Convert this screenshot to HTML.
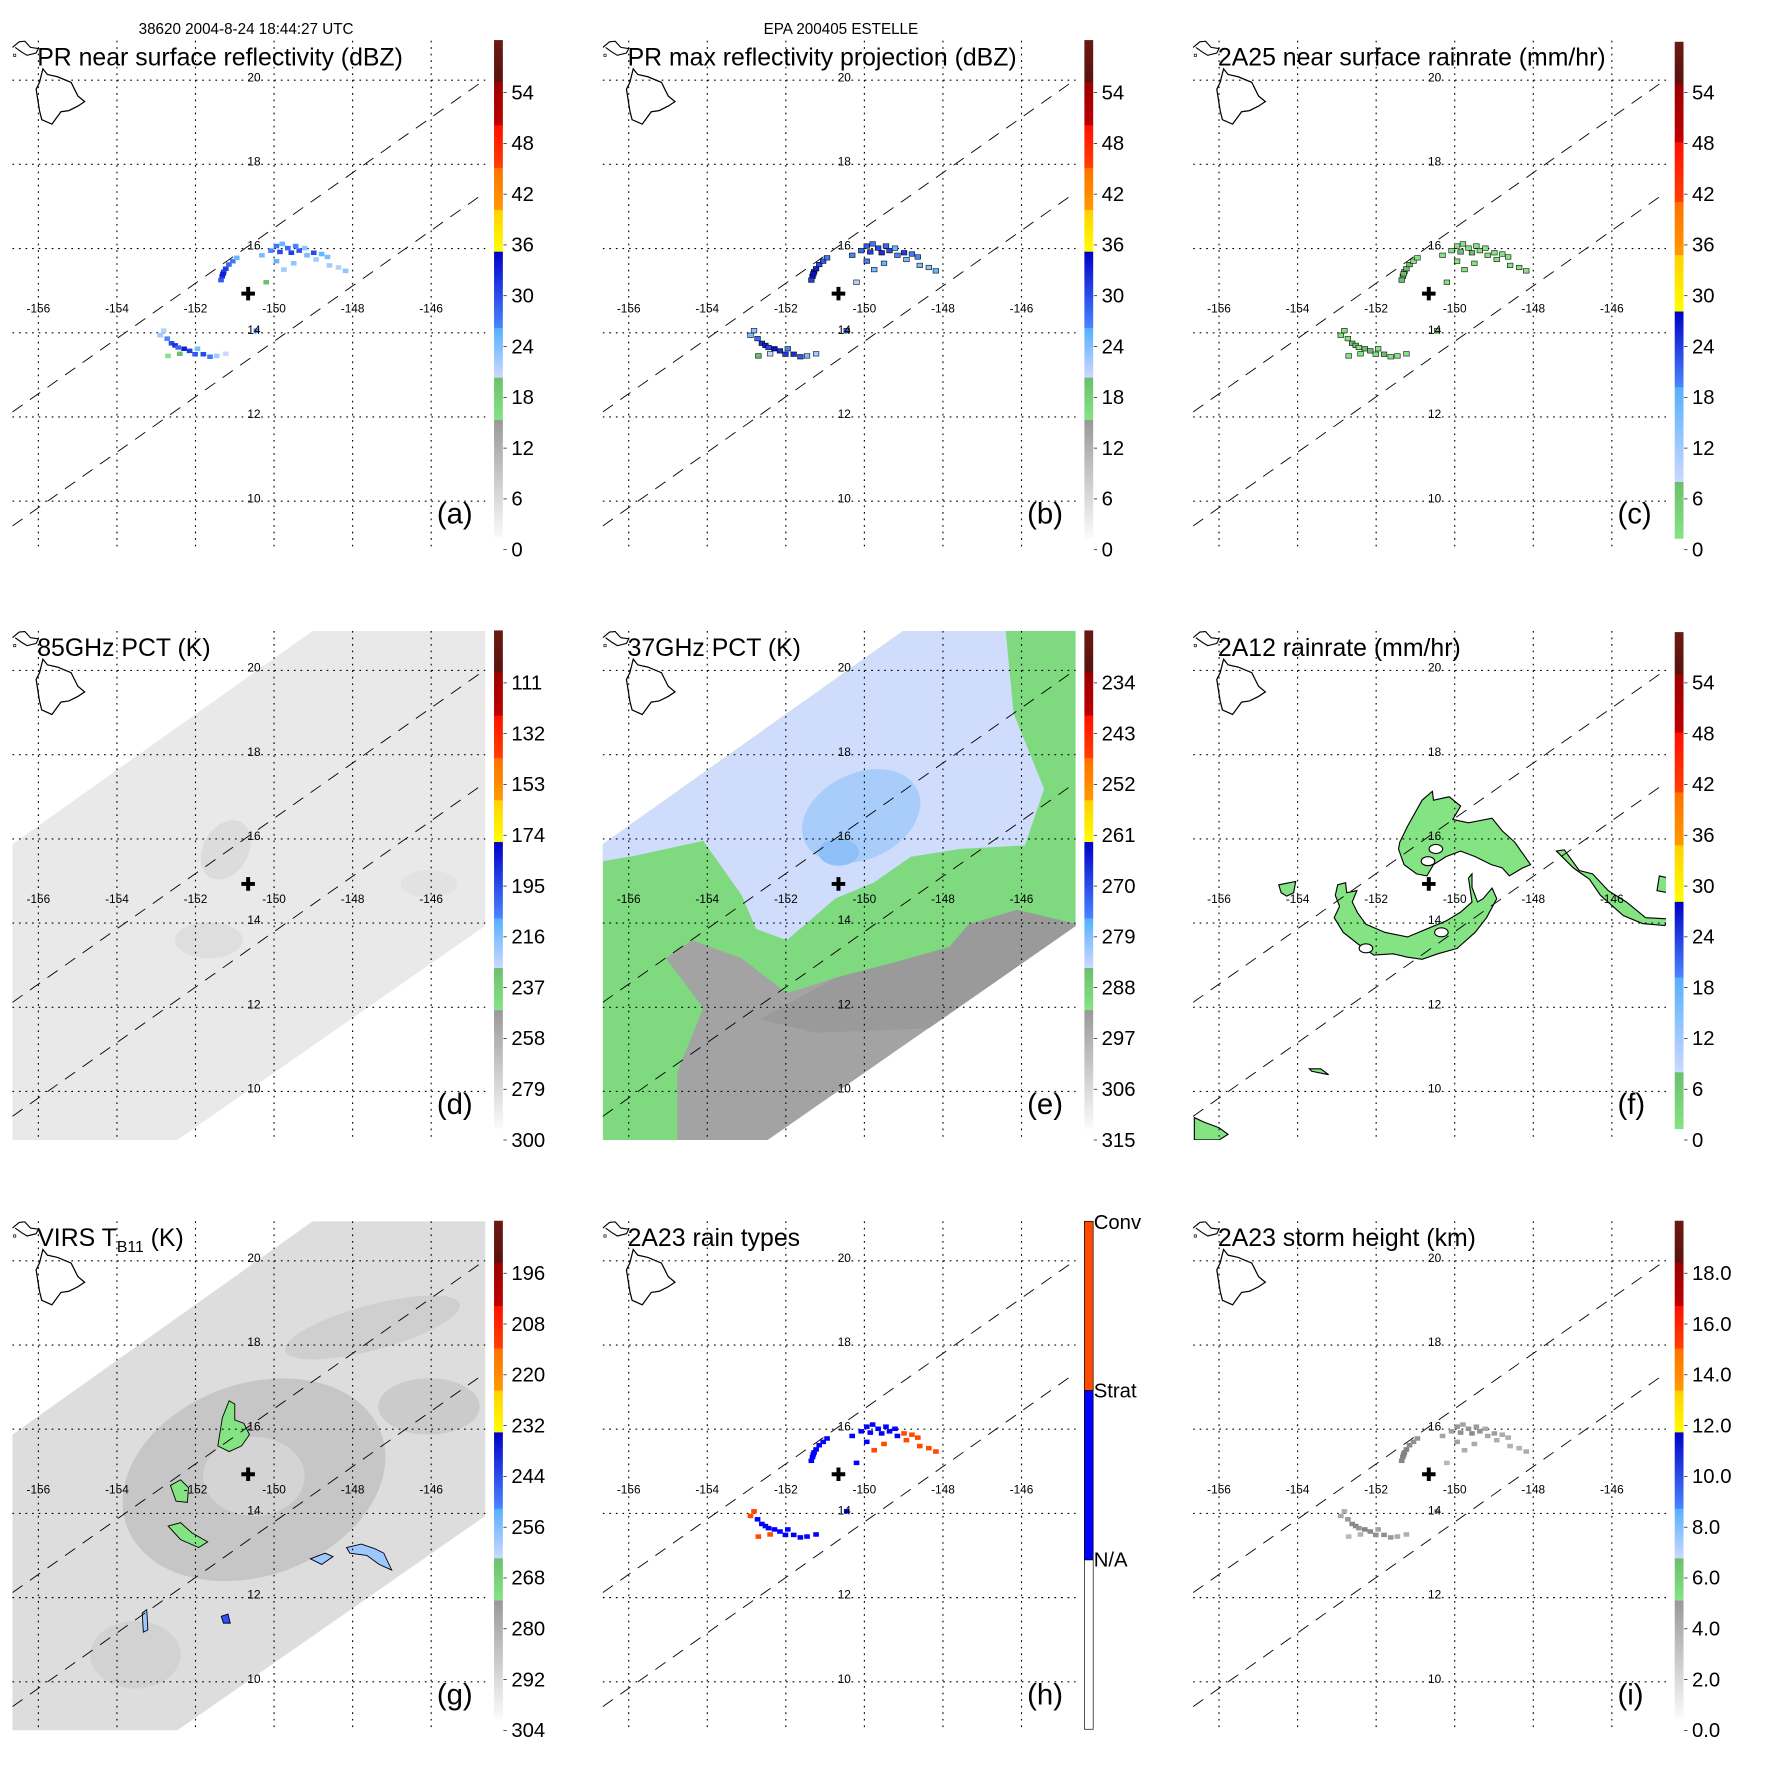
<!DOCTYPE html>
<html><head><meta charset="utf-8"><title>EPA 200405 ESTELLE</title>
<style>
html,body{margin:0;padding:0;background:#fff;}
svg{display:block;font-family:"Liberation Sans",Arial,sans-serif;}
</style></head>
<body>
<svg id="fig" xmlns="http://www.w3.org/2000/svg" width="1771" height="1771" viewBox="0 0 1569 1569">
<rect x="0" y="0" width="1569" height="1569" fill="#fff"/>
<text x="218" y="30" font-size="13.5" text-anchor="middle">38620 2004-8-24 18:44:27 UTC</text>
<text x="745" y="30" font-size="13.5" text-anchor="middle">EPA 200405 ESTELLE</text>
</svg>
<script>
// ---- data ----
const lonTicks = [-156,-154,-152,-150,-148,-146];
const latTicks = [20,18,16,14,12,10];
const centerLon = -150.66, centerLat = 14.93;

const prLon = [-151.32,-151.28,-151.23,-151.15,-151.05,-150.95,-151.35,-151.30,
 -150.31,-150.08,-149.94,-149.85,-149.79,-149.65,-149.56,-149.45,-149.36,-149.22,-149.16,-148.99,-148.93,-148.79,-148.64,-148.59,-148.36,-148.18,-149.50,-149.94,-149.75,-150.20,
 -152.90,-152.81,-152.72,-152.61,-152.52,-152.44,-152.29,-152.15,-152.01,-151.95,-151.80,-151.63,-151.46,-151.23,-152.40,-150.45,-152.70];
const prLat = [15.34,15.45,15.52,15.62,15.70,15.78,15.25,15.40,
 15.84,15.95,16.06,15.92,16.11,16.01,15.90,16.06,15.95,16.01,15.84,15.90,15.74,15.87,15.80,15.60,15.55,15.47,15.65,15.70,15.50,15.20,
 13.94,14.05,13.86,13.75,13.70,13.65,13.62,13.57,13.49,13.62,13.49,13.43,13.45,13.50,13.50,14.05,13.45];
const prDbz = [32,30,31,28,27,25,29,33, 24,26,27,30,25,28,31,26,29,23,24,30,22,25,24,22,21,23,23,25,22,19, 22,21,26,30,32,28,33,31,29,24,30,27,22,20,18,26,17];
const prMax = [33,32,33,30,29,27,31,34, 26,28,29,31,27,30,32,28,30,25,26,31,24,27,26,24,23,25,25,27,24,21, 24,23,28,32,33,30,34,32,31,26,32,29,24,22,20,28,19];
const prRain = [4,3,4,3,2,2,3,5, 1,2,2,3,1,2,3,2,2,1,1,2,1,1,1,1,1,1,1,2,1,0.5, 1,1,2,3,4,2,5,3,2,1,3,2,1,1,0.5,2,0.5];
const prType = [1,1,1,1,1,1,1,1, 1,1,1,1,1,1,1,1,1,1,1,2,2,2,2,2,2,2,2,1,2,1, 2,2,1,1,1,1,1,1,1,1,1,1,1,1,2,1,2];
const prHeight = [4.5,4.3,4.6,4.2,4.0,3.8,4.4,4.7, 3.2,3.5,3.8,4.1,3.3,3.9,4.2,3.6,3.9,3.0,3.1,3.5,2.8,3.0,2.9,2.7,2.6,2.8,3.0,3.4,2.9,2.5, 3.0,2.8,3.6,4.2,4.4,3.9,4.5,4.3,4.0,3.4,4.1,3.7,3.0,2.8,2.6,3.5,2.4];

// 2A12 rain polygons (lon/lat vertex lists)
const f12NorthLon=[-151.40,-151.20,-150.83,-150.57,-150.54,-150.14,-149.85,-150.05,-149.65,-149.05,-148.79,-148.47,-148.07,-148.27,-148.61,-148.79,-149.07,-149.48,-149.85,-150.22,-150.54,-150.71,-150.97,-151.29,-151.43];
const f12NorthLat=[15.92,16.30,16.92,17.13,16.92,17.00,16.78,16.46,16.38,16.49,16.19,15.92,15.39,15.31,15.12,15.31,15.39,15.58,15.71,15.58,15.39,15.12,15.17,15.39,15.76];
const f12SouthLon=[-152.98,-152.78,-152.75,-152.49,-152.61,-152.47,-152.26,-151.78,-151.20,-150.71,-150.22,-149.85,-149.56,-149.65,-149.56,-149.56,-149.42,-149.28,-149.05,-148.93,-149.19,-149.48,-149.94,-150.43,-150.83,-151.20,-151.57,-152.06,-152.47,-152.84,-153.07,-152.93,-153.04];
const f12SouthLat=[14.91,14.96,14.72,14.77,14.50,14.24,13.97,13.78,13.67,13.86,14.05,14.26,14.50,15.07,15.17,14.85,14.50,14.58,14.83,14.58,14.13,13.78,13.40,13.27,13.14,13.19,13.27,13.24,13.51,13.78,14.13,14.40,14.66];
const f12EastLon=[-147.41,-147.21,-146.83,-146.49,-146.09,-145.63,-145.14,-144.56,-144.65,-145.22,-145.71,-146.29,-146.57,-146.98];
const f12EastLat=[15.71,15.74,15.25,15.17,14.77,14.50,14.13,14.10,13.94,13.99,14.18,14.66,15.04,15.31];
const f12EdgeLon=[-144.79,-144.56,-144.56,-144.85]; const f12EdgeLat=[15.12,15.07,14.72,14.77];
const f12WestLon=[-154.48,-154.05,-154.10,-154.28,-154.42]; const f12WestLat=[14.91,14.99,14.72,14.64,14.72];
const f12SWLon=[-156.63,-156.40,-156.00,-155.77,-156.00,-156.63]; const f12SWLat=[9.38,9.28,9.14,8.98,8.85,8.85];
const f12SmLon=[-153.70,-153.41,-153.21,-153.64]; const f12SmLat=[10.54,10.54,10.40,10.48];
const f12HoleLon=[-150.48,-150.68,-150.34,-152.26]; const f12HoleLat=[15.76,15.47,13.78,13.40];

const labelsDbz=['0','6','12','18','24','30','36','42','48','54'];
const labelsRain=['0','6','12','18','24','30','36','42','48','54'];
const labels85=['300','279','258','237','216','195','174','153','132','111'];
const labels37=['315','306','297','288','279','270','261','252','243','234'];
const labelsVirs=['304','292','280','268','256','244','232','220','208','196'];
const labelsHt=['0.0','2.0','4.0','6.0','8.0','10.0','12.0','14.0','16.0','18.0'];

// ---- helpers ----
const NS='http://www.w3.org/2000/svg';
const svg=document.getElementById('fig');
function mk(tag,attrs,parent){const e=document.createElementNS(NS,tag);for(const k in attrs)e.setAttribute(k,attrs[k]);(parent||svg).appendChild(e);return e;}
const xOf=lon=>34+(lon+156)*34.8;
const yOf=lat=>71+(20-lat)*37.3;

function dbzColor(v){
  if(v<15){const g=Math.round(250-v*6.5);return `rgb(${g},${g},${g})`;}
  if(v<20)return v<17.5?'#84e484':'#6cbf6c';
  if(v<26){const t=(v-20)/6;return `rgb(${Math.round(204-t*124)},${Math.round(216-t*40)},255)`;}
  if(v<35){const t=(v-26)/9;return `rgb(${Math.round(74-t*74)},${Math.round(134-t*134)},${Math.round(255-t*55)})`;}
  if(v<40)return '#ffe000'; if(v<45)return '#ff8000'; if(v<51)return '#ff2000'; if(v<57)return '#b00000'; return '#5a120c';
}
function rainColor(v){
  if(v<8)return v<3?'#84e484':'#6cbf6c';
  if(v<20)return '#9cc8ff'; if(v<28)return '#2040ff'; return '#ffe000';
}
function htColor(v){const g=Math.round(245-v*25);return `rgb(${g},${g},${g})`;}

const segA=[[35.5,72.7,'#6b1a12','#5a120c'],[72.7,111,'#9a0000','#c00000'],[111,148.7,'#ff1000','#ff4000'],[148.7,186,'#ff7000','#ff9a00'],[186,223,'#ffd000','#ffff00'],[223,290.7,'#0000c8','#4a86ff'],[290.7,334.6,'#55b0ff','#ccd8ff'],[334.6,372,'#6cbf6c','#84e484'],[372,476.6,'#999999','#fbfbfb']];
const segB=[[37,74,'#6b1a12','#5a120c'],[74,126,'#9a0000','#c00000'],[126,179,'#ff1000','#ff4000'],[179,226,'#ff7000','#ff9a00'],[226,276,'#ffd000','#ffff00'],[276,343,'#0000c8','#4a86ff'],[343,427,'#55b0ff','#ccd8ff'],[427,477,'#6cbf6c','#84e484']];

const panels=[
 {id:'a',c:0,r:0,title:'PR near surface reflectivity (dBZ)',labels:labelsDbz,seg:segA,kind:'prA'},
 {id:'b',c:1,r:0,title:'PR max reflectivity projection (dBZ)',labels:labelsDbz,seg:segA,kind:'prB'},
 {id:'c',c:2,r:0,title:'2A25 near surface rainrate (mm/hr)',labels:labelsRain,seg:segB,kind:'prC'},
 {id:'d',c:0,r:1,title:'85GHz PCT (K)',labels:labels85,seg:segA,kind:'d'},
 {id:'e',c:1,r:1,title:'37GHz PCT (K)',labels:labels37,seg:segA,kind:'e'},
 {id:'f',c:2,r:1,title:'2A12 rainrate (mm/hr)',labels:labelsRain,seg:segB,kind:'f'},
 {id:'g',c:0,r:2,title:'VIRS',labels:labelsVirs,seg:segA,kind:'g'},
 {id:'h',c:1,r:2,title:'2A23 rain types',labels:null,seg:null,kind:'h'},
 {id:'i',c:2,r:2,title:'2A23 storm height (km)',labels:labelsHt,seg:segA,kind:'i'}
];
const SWATH='M11,225 L277,36 L430,36 L430,297 L157,487 L11,487 Z';

const defs=mk('defs',{});
panels.forEach(p=>{
  const g=mk('g',{transform:`translate(${p.c*523},${p.r*523})`});
  
  
  const cp=mk('clipPath',{id:'clip-'+p.id},defs);
  mk('rect',{x:11,y:36,width:419,height:451},cp);
  const map=mk('g',{'clip-path':`url(#clip-${p.id})`},g);
  
  

  if(p.kind==='d'){
    mk('path',{d:SWATH,fill:'#e9e9e9'},map);
    mk('ellipse',{cx:200,cy:230,rx:20,ry:28,fill:'#dcdcdc',transform:'rotate(30 200 230)'},map);
    mk('ellipse',{cx:185,cy:310,rx:30,ry:16,fill:'#dedede'},map);
    mk('ellipse',{cx:380,cy:260,rx:25,ry:12,fill:'#e2e2e2'},map);
  }
  if(p.kind==='e'){
    mk('path',{d:SWATH,fill:'#7fd97f'},map);
    mk('path',{d:'M11,225 L277,36 L368,36 L375,109 L402,176 L385,226 L328,229 L284,236 L251,259 L217,273 L194,293 L174,310 L147,300 L134,270 L100,222 L40,235 L11,240 Z',fill:'#cfdcfb'},map);
    mk('ellipse',{cx:240,cy:200,rx:55,ry:38,fill:'#a9cdfa',transform:'rotate(-25 240 200)'},map);
    mk('ellipse',{cx:220,cy:232,rx:18,ry:12,fill:'#8dc0f7'},map);
    mk('path',{d:'M335,296 L378,283 L432,296 L157,487 L77,487 L77,427 L100,370 L67,326 L90,310 L134,326 L174,357 L218,343 L268,330 L318,316 Z',fill:'#a3a3a3'},map);
    mk('path',{d:'M335,296 L378,283 L432,296 L300,388 L200,392 L150,380 L218,343 L268,330 L318,316 Z',fill:'#9a9a9a'},map);
  }
  if(p.kind==='g'){
    mk('path',{d:SWATH,fill:'#dddddd'},map);
    mk('ellipse',{cx:225,cy:265,rx:120,ry:85,fill:'#c6c6c6',transform:'rotate(-20 225 265)'},map);
    mk('ellipse',{cx:225,cy:262,rx:45,ry:35,fill:'#d4d4d4'},map);
    mk('ellipse',{cx:330,cy:130,rx:80,ry:20,fill:'#cfcfcf',transform:'rotate(-15 330 130)'},map);
    mk('ellipse',{cx:380,cy:200,rx:45,ry:25,fill:'#cbcbcb'},map);
    mk('ellipse',{cx:120,cy:420,rx:40,ry:30,fill:'#d2d2d2'},map);
    const blobs=[['M193,235 L197,210 L203,195 L208,198 L208,212 L216,215 L221,225 L214,235 L203,240 Z','#84e484'],
      ['M151,270 L160,265 L167,272 L166,285 L156,284 Z','#84e484'],
      ['M149,306 L160,303 L170,312 L184,320 L176,325 L160,318 Z','#84e484'],
      ['M307,325 L320,322 L332,326 L340,330 L347,345 L336,340 L325,332 L310,330 Z','#9cc8ff'],
      ['M275,335 L288,330 L295,333 L285,340 Z','#9cc8ff'],
      ['M126,383 L130,380 L131,398 L127,400 Z','#9cc8ff'],
      ['M196,386 L202,384 L204,392 L198,392 Z','#3050ff']];
    blobs.forEach(b=>mk('path',{d:b[0],fill:b[1],stroke:'#000','stroke-width':0.8},map));
  }
  if(p.kind==='f'){
    const polys=[[f12NorthLon,f12NorthLat],[f12SouthLon,f12SouthLat],[f12EastLon,f12EastLat],[f12EdgeLon,f12EdgeLat],[f12WestLon,f12WestLat],[f12SWLon,f12SWLat],[f12SmLon,f12SmLat]];
    polys.forEach(pp=>{
      const pts=pp[0].map((lo,i)=>xOf(lo).toFixed(1)+','+yOf(pp[1][i]).toFixed(1)).join(' ');
      const el=mk('polygon',{points:pts,fill:'#84e484',stroke:'#000','stroke-width':1},map);
      
      
    });
    f12HoleLon.forEach((lo,i)=>{
      const el=mk('ellipse',{cx:xOf(lo),cy:yOf(f12HoleLat[i]),rx:6,ry:4,fill:'#fff',stroke:'#000','stroke-width':1},map);
      
      
    });
  }

  lonTicks.forEach(lo=>{mk('line',{x1:xOf(lo),x2:xOf(lo),y1:36,y2:487,stroke:'#000','stroke-width':1,'stroke-dasharray':'1.5 4.3'},map);});
  latTicks.forEach(la=>{mk('line',{x1:11,x2:430,y1:yOf(la),y2:yOf(la),stroke:'#000','stroke-width':1,'stroke-dasharray':'1.5 4.3'},map);});
  mk('line',{x1:11,y1:365,x2:429,y2:71,stroke:'#000','stroke-width':0.8,'stroke-dasharray':'11 8'},map);
  mk('line',{x1:11,y1:466,x2:429,y2:171,stroke:'#000','stroke-width':0.8,'stroke-dasharray':'11 8'},map);

  if(['prA','prB','prC','h','i'].includes(p.kind)){
    prLon.forEach((lo,i)=>{
      let col,stroke='none';
      if(p.kind==='prA')col=dbzColor(prDbz[i]);
      else if(p.kind==='prB'){col=dbzColor(prMax[i]);stroke='#000';}
      else if(p.kind==='prC'){col=rainColor(prRain[i]);stroke='#000';}
      else if(p.kind==='h')col=prType[i]===2?'#ff4a00':'#0000ff';
      else col=htColor(prHeight[i]);
      const r=mk('rect',{x:xOf(lo)-2.5,y:yOf(prLat[i])-2,width:5,height:4,fill:col,stroke:stroke,'stroke-width':0.5},map);
      
      
    });
  }

  mk('path',{d:'M38,61 L42,66 L51,68 L63,73 L66,79 L69,85 L75,90 L69,94 L61,98 L54,99 L46,110 L37,106 L35,98 L32,79 L35,73 Z',fill:'none',stroke:'#000','stroke-width':1.1},map);
  mk('path',{d:'M11,42 L17,37 L22,36.5 L27,42 L34,43 L32,47 L24,49 L19,46 L13.5,42',fill:'none',stroke:'#000','stroke-width':1},map);
  mk('rect',{x:12,y:48,width:2,height:2,fill:'none',stroke:'#000','stroke-width':0.6},map);

  const cx=xOf(centerLon),cy=yOf(centerLat);
  const cr=mk('path',{d:`M${cx-6},${cy} H${cx+6} M${cx},${cy-6} V${cy+6}`,stroke:'#000','stroke-width':3.5,fill:'none'},g);
  
  

  lonTicks.forEach(lo=>{const t=mk('text',{x:xOf(lo),y:277,'font-size':10.5,'text-anchor':'middle'},g);t.textContent=String(lo);
    });
  latTicks.forEach(la=>{const t=mk('text',{x:225,y:yOf(la)+1,'font-size':10.5,'text-anchor':'middle'},g);t.textContent=String(la);
    });

  const tt=mk('text',{x:33,y:58,'font-size':22},g);
  
  
  if(p.kind==='g'){
    tt.textContent='VIRS T';
    const s=mk('tspan',{'font-size':14,dy:5},tt);s.textContent='B11';
    const s2=mk('tspan',{dy:-5},tt);s2.textContent=' (K)';
  } else tt.textContent=p.title;

  const pl=mk('text',{x:387,y:464,'font-size':26},g);
  pl.textContent='('+p.id+')';
  
  

  const cb=mk('g',{},g);
  
  
  if(p.seg){
    p.seg.forEach((s,k)=>{
      const gid=`grad-${p.id}-${k}`;
      const lg=mk('linearGradient',{id:gid,x1:0,y1:0,x2:0,y2:1},defs);
      mk('stop',{offset:0,'stop-color':s[2]},lg);mk('stop',{offset:1,'stop-color':s[3]},lg);
      mk('rect',{x:437.7,y:s[0],width:7.8,height:s[1]-s[0]+0.3,fill:`url(#${gid})`},cb);
    });
    p.labels.forEach((lb,i)=>{
      const y=487-45*i;
      mk('line',{x1:446,x2:449,y1:y,y2:y,stroke:'#000','stroke-width':0.6},cb);
      const t=mk('text',{x:453,y:y+6,'font-size':18},cb);t.textContent=lb;
      
    });
  } else {
    mk('rect',{x:437.7,y:36,width:7.8,height:150,fill:'#ff4a00',stroke:'#000','stroke-width':0.6},cb);
    mk('rect',{x:437.7,y:186,width:7.8,height:150,fill:'#0000ff',stroke:'#000','stroke-width':0.6},cb);
    mk('rect',{x:437.7,y:336,width:7.8,height:150,fill:'#fff',stroke:'#000','stroke-width':0.6},cb);
    [['Conv',37],['Strat',186],['N/A',336]].forEach(a=>{
      const t=mk('text',{x:446,y:a[1]+6,'font-size':18},cb);t.textContent=a[0];
      
    });
  }
});
</script>
</body></html>
